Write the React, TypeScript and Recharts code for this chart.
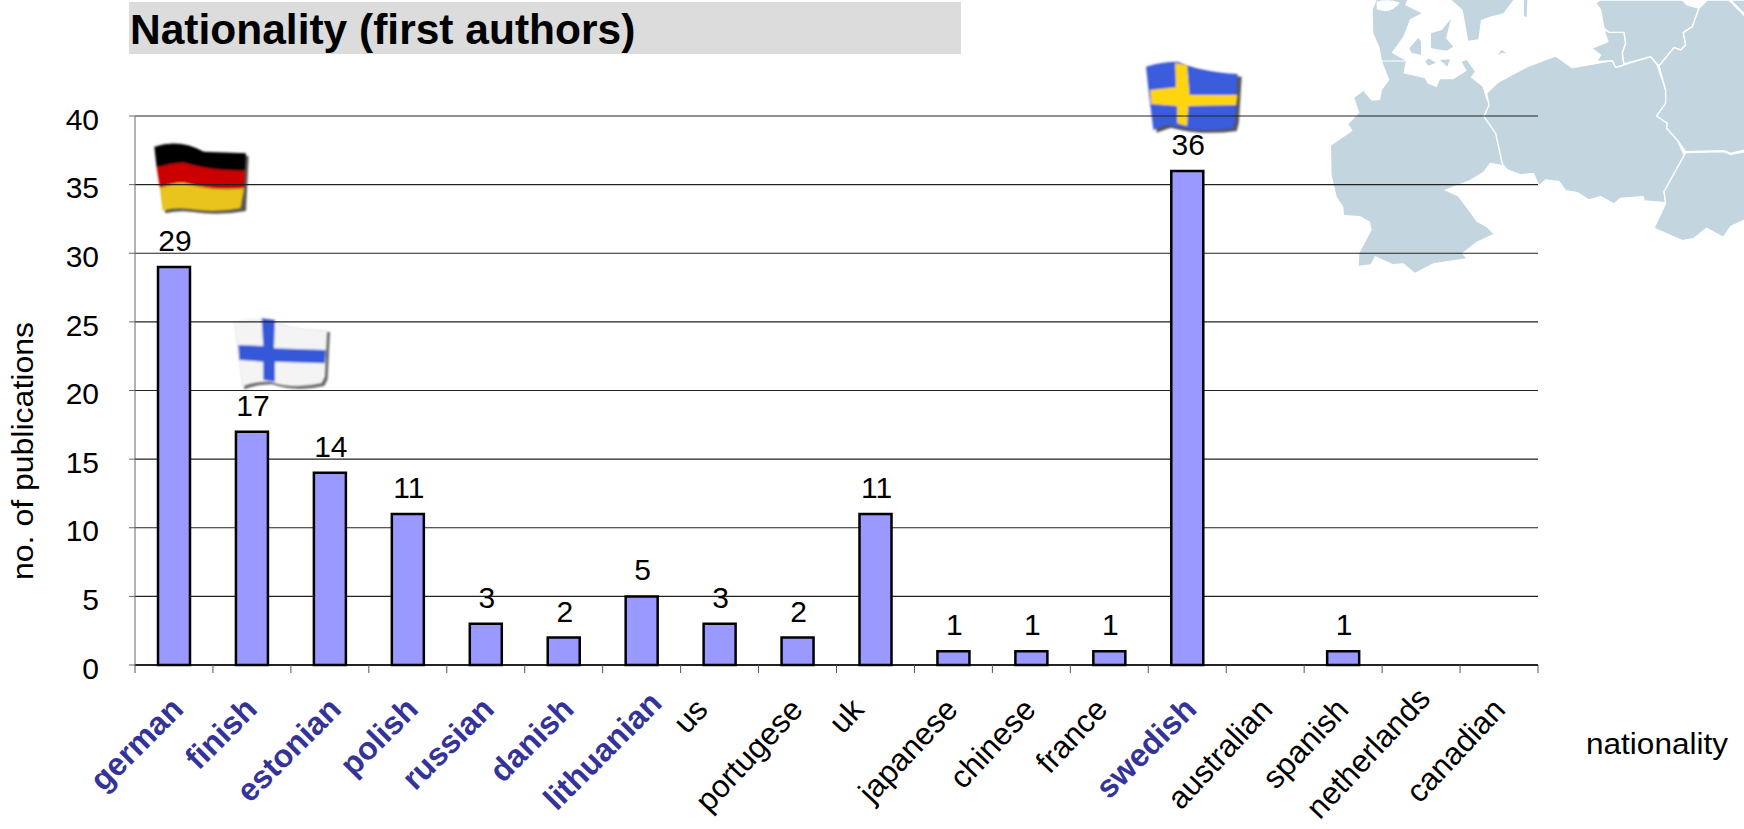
import { BarChart, Bar, XAxis, YAxis, CartesianGrid, LabelList, Label } from "recharts";

const FONT = "'Liberation Sans', Arial, sans-serif";
const MAP_BLUE = "#c3d6e0";
const W = 1744;
const H = 829;
const PLOT_LEFT = 135;
const PLOT_RIGHT = 1538;
const PLOT_TOP = 116;
const PLOT_BOTTOM = 665;

const categories = [
  "german", "finish", "estonian", "polish", "russian", "danish", "lithuanian", "us", "portugese",
  "uk", "japanese", "chinese", "france", "swedish", "australian", "spanish", "netherlands", "canadian",
];
const publications = [29, 17, 14, 11, 3, 2, 5, 3, 2, 11, 1, 1, 1, 36, null, 1, null, null];
const highlighted = ["german", "finish", "estonian", "polish", "russian", "danish", "lithuanian", "swedish"];
const yTicks = [0, 5, 10, 15, 20, 25, 30, 35, 40];

// hand placement of the slanted labels, they are not evenly spaced in the slide
const labelNudgeX = [11, 7, 13, 12, 10, 12, 22, -10, 7, -10, 6, 6, 0, 11, 9, 7, 11, 8];
const labelNudgeY = [0, 0, 0, 0, 0, 0, -6, 0, 0, 0, 0, 0, 0, 0, 0, 0, -11, 0];

const data = categories.map((name, i) => ({ name, value: publications[i] }));
const band = (PLOT_RIGHT - PLOT_LEFT) / categories.length;

function CategoryTick({ x, y, payload, index }: any) {
  const bold = highlighted.includes(payload.value);
  const endX = x + labelNudgeX[index];
  const endY = 711 + labelNudgeY[index];
  const last = index === categories.length - 1;
  return (
    <g>
      <line x1={x - band / 2} x2={x - band / 2} y1={y - 8} y2={y} stroke="#555" />
      {last && <line x1={x + band / 2} x2={x + band / 2} y1={y - 8} y2={y} stroke="#555" />}
      <text
        x={endX}
        y={endY}
        textAnchor="end"
        transform={`rotate(${bold ? -45 : -47} ${endX} ${endY})`}
        fontFamily={FONT}
        fontSize={bold ? 32 : 31.5}
        fontWeight={bold ? 700 : 400}
        fill={bold ? "#333399" : "#000"}
      >
        {payload.value}
      </text>
    </g>
  );
}

function YTitle() {
  return (
    <text
      x={0}
      y={0}
      transform="translate(33 451) rotate(-90)"
      textAnchor="middle"
      textLength={258}
      lengthAdjust="spacingAndGlyphs"
      fontFamily={FONT}
      fontSize={29}
      fill="#000"
    >
      no. of publications
    </text>
  );
}

function XTitle() {
  return (
    <text x={1586} y={754} textLength={142} lengthAdjust="spacingAndGlyphs" fontFamily={FONT} fontSize={29} fill="#000">
      nationality
    </text>
  );
}

function Backdrop() {
  return (
    <svg width={W} height={H} style={{ position: "absolute", left: 0, top: 0 }}>
      <defs>
        <filter id="soft" x="-10%" y="-10%" width="120%" height="120%">
          <feGaussianBlur stdDeviation="2.5" />
        </filter>
      </defs>

      <rect x={129} y={2} width={832} height={52} fill="#dcdcdc" />
      <text x={130} y={44} fontFamily={FONT} fontSize={42.5} fontWeight={700} fill="#000">
        Nationality (first authors)
      </text>

      {/* map */}
      <g transform="translate(1320 0) scale(0.3333)" fill={MAP_BLUE}>
        <path d="M158,30 L170,0 L262,0 L255,15 L305,40 L270,58 L250,110 L215,158 L258,183 L250,220 L315,235 L322,250 L350,262 L360,238 L400,238 L440,212 L425,185 L440,180 L465,215 L452,232 L488,260 L500,300 L508,315 L490,348 L527,398 L547,495 L510,488 L490,515 L450,540 L372,570 L415,590 L470,665 L500,682 L520,702 L470,725 L425,760 L438,775 L340,790 L285,818 L250,790 L218,792 L165,768 L152,793 L116,797 L118,760 L155,690 L150,665 L120,648 L72,645 L70,620 L50,590 L35,525 L33,437 L98,392 L85,373 L118,338 L103,293 L130,273 L155,302 L180,300 L186,270 L208,240 L186,183 L178,140 L160,100 Z" />
        <path d="M170,5 Q205,-5 240,8 Q210,45 170,28 Z" fill="#fff" />
        <path d="M186,183 L258,183" stroke="#fff" strokeWidth={3} fill="none" />
        <path d="M395,0 L428,30 L445,122 L475,118 L483,60 L510,50 L550,40 L580,0 Z" />
        <path d="M333,100 L365,90 L393,57 L378,115 L400,140 L380,152 L333,145 Z" />
        <path d="M268,145 L295,113 L303,125 L303,165 L275,158 Z" />
        <path d="M612,0 L622,0 L620,52 L612,48 Z" />
        <path d="M532,165 L545,150 L560,160 L545,158 Z" />
        <path d="M316,185 L325,175 L348,188 L325,197 Z" />
        <path d="M360,180 L390,178 L382,200 Z" />
      </g>
      <g transform="translate(1484 0) scale(0.3333)" fill={MAP_BLUE} stroke="#fff" strokeWidth={4} strokeLinejoin="round">
        <path d="M8,280 L40,248 L130,200 L215,168 L265,203 L385,182 L395,202 L500,170 L520,195 L545,270 L545,310 L518,348 L550,370 L548,385 L580,420 L605,475 L540,575 L545,608 L480,603 L478,590 L410,595 L390,612 L350,590 L315,600 L280,578 L245,572 L225,545 L185,540 L165,558 L148,520 L110,525 L70,510 L55,492 L35,400 L0,350 L15,315 Z" />
        <path d="M322,145 L372,125 L360,92 L420,97 L425,130 L415,160 L420,195 L395,202 L385,182 L338,185 L350,165 Z" />
        <path d="M335,8 L350,0 L595,0 L610,15 L640,23 L645,25 L625,80 L598,98 L605,135 L590,150 L570,143 L525,198 L500,170 L420,192 L415,160 L425,130 L420,97 L375,97 L360,85 L350,30 Z" />
        <path d="M670,0 L735,0 L782,48 L782,450 L740,460 L720,452 L605,455 L580,420 L548,385 L550,370 L518,348 L545,310 L545,270 L525,198 L570,143 L590,150 L605,135 L598,98 L625,80 L645,25 Z" />
        <path d="M605,458 L720,455 L740,463 L782,455 L782,660 L740,680 L718,712 L668,685 L630,715 L595,722 L510,685 L545,610 L540,575 Z" />
        <path d="M740,0 L782,0 L782,42 Z" />
      </g>

      {/* german flag */}
      <g transform="scale(0.3333)">
        <path d="M471,448 Q548,423 618,463 L746,468 L738,633 Q658,648 578,636 Q538,630 496,640 Z" fill="#555" filter="url(#soft)" />
        <g filter="url(#soft)">
          <path d="M463,440 Q540,415 610,455 L738,460 L735,512 Q640,515 550,488 Q510,490 470,503 Z" fill="#000" />
          <path d="M470,503 Q510,490 550,488 Q640,515 735,512 L733,565 Q640,575 550,548 Q510,550 480,565 Z" fill="#cc0000" />
          <path d="M480,565 Q510,550 550,548 Q640,575 733,565 L722,625 Q650,640 570,628 Q530,622 488,632 Z" fill="#e8c41e" />
        </g>
      </g>

      {/* finnish flag */}
      <g transform="scale(0.3333)">
        <path d="M708,973 Q768,958 818,966 Q868,993 990,996 L983,1138 L973,1158 Q888,1178 818,1153 Q768,1153 733,1168 Z" fill="#666" filter="url(#soft)" />
        <g filter="url(#soft)">
          <path d="M700,965 Q760,950 810,958 Q860,985 982,990 L975,1130 L965,1150 Q880,1170 810,1145 Q760,1145 725,1160 Z" fill="#f4f4f4" />
          <path d="M785,955 L825,960 L822,1045 L978,1050 L975,1090 L825,1085 L825,1145 L790,1140 L790,1085 L718,1080 L715,1035 L790,1038 Z" fill="#3558d8" />
        </g>
      </g>

      {/* swedish flag */}
      <g transform="translate(1100 0) scale(0.4107 0.3333)">
        <path d="M120,208 Q158,193 198,193 Q248,223 345,230 L338,368 L333,393 Q248,408 173,383 Q148,393 138,398 L128,298 Z" fill="#555" filter="url(#soft)" />
        <g filter="url(#soft)">
          <path d="M112,200 Q150,185 190,185 Q240,215 335,222 L330,360 L325,385 Q240,400 165,375 Q140,385 130,390 L120,290 Z" fill="#3a5bdc" />
          <path d="M183,190 L212,195 L218,285 L335,285 L332,315 L215,318 L212,378 L188,370 L188,318 L125,312 L122,270 L185,262 Z" fill="#ffd60a" />
        </g>
      </g>
    </svg>
  );
}

export default function App() {
  return (
    <div style={{ position: "absolute", left: 0, top: 0, width: W, height: H, overflow: "hidden", background: "#fff" }}>
      <Backdrop />
      <div style={{ position: "absolute", left: 0, top: 0 }}>
        <BarChart
          width={W}
          height={H}
          data={data}
          barSize={32}
          margin={{ top: PLOT_TOP, right: W - PLOT_RIGHT, left: 0, bottom: H - PLOT_BOTTOM - 100 }}
        >
          <CartesianGrid vertical={false} stroke="#222" strokeWidth={1.2} />
          <XAxis
            dataKey="name"
            interval={0}
            height={100}
            tickLine={false}
            axisLine={{ stroke: "#000", strokeWidth: 1.5 }}
            tick={<CategoryTick />}
          >
            <Label content={<XTitle />} />
          </XAxis>
          <YAxis
            width={PLOT_LEFT}
            domain={[0, 40]}
            ticks={yTicks}
            tickSize={6}
            tickMargin={30}
            stroke="#666"
            tick={{ fontSize: 30, fontFamily: FONT, fill: "#000", dy: 3 }}
          >
            <Label content={<YTitle />} />
          </YAxis>
          <Bar dataKey="value" fill="#9999ff" stroke="#000" strokeWidth={2.5} isAnimationActive={false}>
            <LabelList dataKey="value" position="top" offset={16} dx={1} fontSize={30} fontFamily={FONT} fill="#000" />
          </Bar>
        </BarChart>
      </div>
    </div>
  );
}
